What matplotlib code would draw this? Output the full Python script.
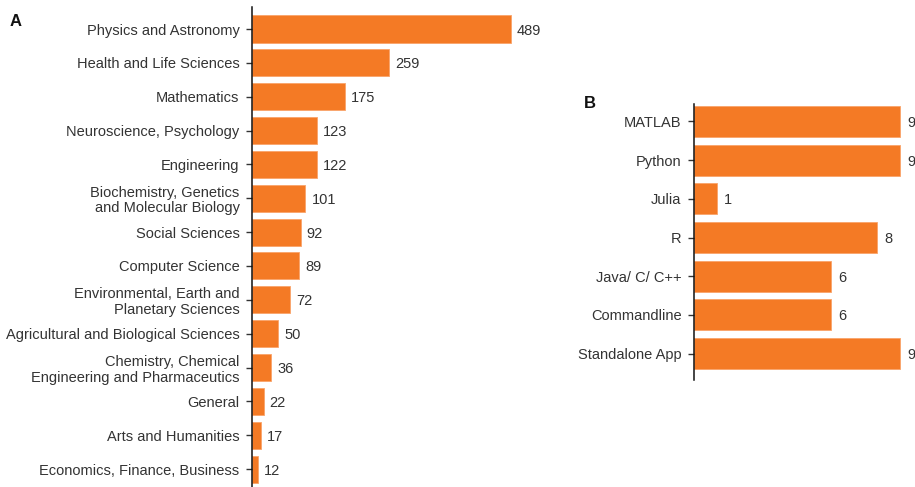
import matplotlib.pyplot as plt

plt.rcParams["font.family"] = ["Liberation Sans", "DejaVu Sans"]

BAR_COLOR = "#F47A25"
TEXT_COLOR = "#333333"

FIELDS = [
    "Physics and Astronomy",
    "Health and Life Sciences",
    "Mathematics",
    "Neuroscience, Psychology",
    "Engineering",
    "Biochemistry, Genetics\nand Molecular Biology",
    "Social Sciences",
    "Computer Science",
    "Environmental, Earth and\nPlanetary Sciences",
    "Agricultural and Biological Sciences",
    "Chemistry, Chemical\nEngineering and Pharmaceutics",
    "General",
    "Arts and Humanities",
    "Economics, Finance, Business",
]
FIELD_COUNTS = [489, 259, 175, 123, 122, 101, 92, 89, 72, 50, 36, 22, 17, 12]

PLATFORMS = ["MATLAB", "Python", "Julia", "R", "Java/ C/ C++", "Commandline", "Standalone App"]
PLATFORM_COUNTS = [9, 9, 1, 8, 6, 6, 9]

W, H = 915, 487


def panel(fig, rect_px, labels, values, xmax, ylim, offset_px, px_per_unit, bar_h):
    left, top, right, bottom = rect_px
    ax = fig.add_axes([left / W, 1 - bottom / H, (right - left) / W, (bottom - top) / H])
    pos = list(range(len(labels)))
    ax.barh(pos, values, height=bar_h, color=BAR_COLOR, edgecolor="#F9A46A", linewidth=0.6)
    for p, v in zip(pos, values):
        ax.text(v + offset_px / px_per_unit, p, str(v), va="center_baseline", ha="left",
                fontsize=10.5, color=TEXT_COLOR)
    ax.set_yticks(pos)
    ax.set_yticklabels(labels, fontsize=10.5, color=TEXT_COLOR, linespacing=1.15)
    ax.set_ylim(*ylim)
    ax.set_xlim(0, xmax)
    ax.set_xticks([])
    for side in ("top", "right", "bottom"):
        ax.spines[side].set_visible(False)
    ax.spines["left"].set_color("#111111")
    ax.spines["left"].set_linewidth(1.1)
    ax.tick_params(axis="y", length=4, width=1, color="#333333", pad=5)
    return ax


fig = plt.figure(figsize=(W / 100, H / 100), dpi=100)

# left: subject areas; scale ~0.53 px per count
px_a = 259 / 489
panel(fig, (252, 7, 252 + 580 * px_a, 487), FIELDS, FIELD_COUNTS, 580,
      (13.53, -0.65), 6, px_a, 0.8)

# right: software platforms; scale ~22.9 px per count
px_b = 206 / 9
panel(fig, (694, 104, 694 + 9.4 * px_b, 380), PLATFORMS, PLATFORM_COUNTS, 9.4,
      (6.68, -0.45), 7, px_b, 0.8)

fig.text(10 / W, 1 - 22 / H, "A", fontsize=12, fontweight="bold", va="center", color="#111111")
fig.text(584 / W, 1 - 103 / H, "B", fontsize=12, fontweight="bold", va="center", color="#111111")

fig.savefig("out.png", dpi=100)
